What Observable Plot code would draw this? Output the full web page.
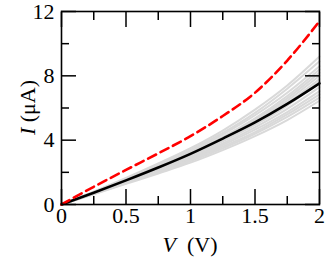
<!DOCTYPE html>
<html>
<head>
<meta charset="utf-8">
<script src="https://cdn.jsdelivr.net/npm/d3@7"></script>
<script src="https://cdn.jsdelivr.net/npm/@observablehq/plot@0.6"></script>
<style>
  html, body { margin: 0; padding: 0; background: #fff; }
  #chart { width: 327px; height: 264px; }
  #chart svg text { font-family: "Liberation Serif", "Times New Roman", serif; }
</style>
</head>
<body>
<div id="chart"></div>
<script>
const voltage = [0, 0.25, 0.5, 0.75, 1, 1.25, 1.5, 1.75, 2];
const blackCurrent = [0, 0.73, 1.5, 2.3, 3.15, 4.1, 5.1, 6.25, 7.53];
const redCurrent = [0, 1.1, 2.15, 3.18, 4.25, 5.5, 6.95, 8.95, 11.4];
const grayCurrents = [
  [0, 0.8, 1.65, 2.55, 3.5, 4.6, 5.9, 7.4, 9.2],
  [0, 0.78, 1.6, 2.5, 3.4, 4.45, 5.7, 7.2, 8.9],
  [0, 0.76, 1.57, 2.42, 3.3, 4.35, 5.55, 6.95, 8.6],
  [0, 0.75, 1.54, 2.35, 3.22, 4.2, 5.35, 6.75, 8.4],
  [0, 0.74, 1.52, 2.3, 3.15, 4.1, 5.25, 6.6, 8.2],
  [0, 0.73, 1.5, 2.27, 3.1, 4.05, 5.15, 6.45, 8.0],
  [0, 0.72, 1.47, 2.23, 3.05, 3.98, 5.05, 6.3, 7.8],
  [0, 0.71, 1.45, 2.2, 3.0, 3.92, 4.95, 6.15, 7.65],
  [0, 0.7, 1.42, 2.15, 2.92, 3.8, 4.8, 5.95, 7.3],
  [0, 0.68, 1.38, 2.1, 2.85, 3.7, 4.65, 5.75, 7.05],
  [0, 0.67, 1.35, 2.05, 2.78, 3.6, 4.5, 5.6, 6.85],
  [0, 0.65, 1.32, 2.0, 2.7, 3.5, 4.4, 5.45, 6.65],
  [0, 0.63, 1.28, 1.93, 2.6, 3.38, 4.25, 5.25, 6.45]
];
const xMajorTicks = [0, 0.5, 1, 1.5, 2];
const xMinorTicks = [0.25, 0.75, 1.25, 1.75];
const yMajorTicks = [0, 4, 8, 12];
const yMinorTicks = [2, 6, 10];
const xTickLabels = ["0", "0.5", "1", "1.5", "2"];
const yTickLabels = ["0", "4", "8", "12"];

const toRows = (arr, id) => voltage.map((v, i) => ({V: v, I: arr[i], id}));
const grayRows = grayCurrents.flatMap((arr, k) => toRows(arr, k));
const blackRows = toRows(blackCurrent, "black");
const redRows = toRows(redCurrent, "red");

const FONT = "'Liberation Serif', 'Times New Roman', serif";
const blank = () => "";

const plot = Plot.plot({
  width: 327,
  height: 264,
  marginLeft: 61,
  marginRight: 8,
  marginTop: 11,
  marginBottom: 60,
  style: {fontFamily: FONT, fontSize: "22px", color: "#000", background: "#fff", overflow: "visible"},
  x: {domain: [0, 2]},
  y: {domain: [0, 12]},
  marks: [
    Plot.line(grayRows, {x: "V", y: "I", z: "id", stroke: "#d9d9d9", strokeWidth: 2, curve: "monotone-x"}),
    Plot.line(blackRows, {x: "V", y: "I", stroke: "#000", strokeWidth: 2.6, curve: "monotone-x"}),
    Plot.line(redRows, {x: "V", y: "I", stroke: "#ff0000", strokeWidth: 2.6, strokeDasharray: "9,5", curve: "monotone-x"}),
    // inward ticks on all four sides
    Plot.axisX({anchor: "bottom", ticks: xMajorTicks, tickSize: -15, tickFormat: blank, label: null, strokeWidth: 1.5}),
    Plot.axisX({anchor: "bottom", ticks: xMinorTicks, tickSize: -8, tickFormat: blank, label: null, strokeWidth: 1.5}),
    Plot.axisX({anchor: "top", ticks: xMajorTicks, tickSize: -15, tickFormat: blank, label: null, strokeWidth: 1.5}),
    Plot.axisX({anchor: "top", ticks: xMinorTicks, tickSize: -8, tickFormat: blank, label: null, strokeWidth: 1.5}),
    Plot.axisY({anchor: "left", ticks: yMajorTicks, tickSize: -15, tickFormat: blank, label: null, strokeWidth: 1.5}),
    Plot.axisY({anchor: "left", ticks: yMinorTicks, tickSize: -8, tickFormat: blank, label: null, strokeWidth: 1.5}),
    Plot.axisY({anchor: "right", ticks: yMajorTicks, tickSize: -15, tickFormat: blank, label: null, strokeWidth: 1.5}),
    Plot.axisY({anchor: "right", ticks: yMinorTicks, tickSize: -8, tickFormat: blank, label: null, strokeWidth: 1.5}),
    // tick labels
    Plot.axisX({anchor: "bottom", ticks: xMajorTicks, tickSize: 0, tickPadding: 3, tickFormat: (d, i) => xTickLabels[i], label: null, fontSize: 22}),
    Plot.axisY({anchor: "left", ticks: yMajorTicks, tickSize: 0, tickPadding: 7, tickFormat: (d, i) => yTickLabels[i], label: null, fontSize: 22}),
    Plot.frame({stroke: "#000", strokeWidth: 1.6})
  ]
});

document.getElementById("chart").appendChild(plot);

// axis titles with italic symbols
const svg = d3.select(plot);
const xs = plot.scale("x"), ys = plot.scale("y");
const xMid = (xs.range[0] + xs.range[1]) / 2;
const yMid = (ys.range[0] + ys.range[1]) / 2;

const xt = svg.append("text")
  .attr("x", xMid).attr("y", 252)
  .attr("text-anchor", "middle")
  .attr("font-family", FONT).attr("font-size", 22).attr("fill", "#000");
xt.append("tspan").attr("font-style", "italic").text("V");
xt.append("tspan").text("\u00a0\u00a0(V)");

const yt = svg.append("text")
  .attr("transform", `translate(35,${yMid}) rotate(-90)`)
  .attr("text-anchor", "middle")
  .attr("font-family", FONT).attr("font-size", 22).attr("fill", "#000");
yt.append("tspan").attr("font-style", "italic").text("I");
yt.append("tspan").text("\u00a0(\u03bcA)");
</script>
</body>
</html>
